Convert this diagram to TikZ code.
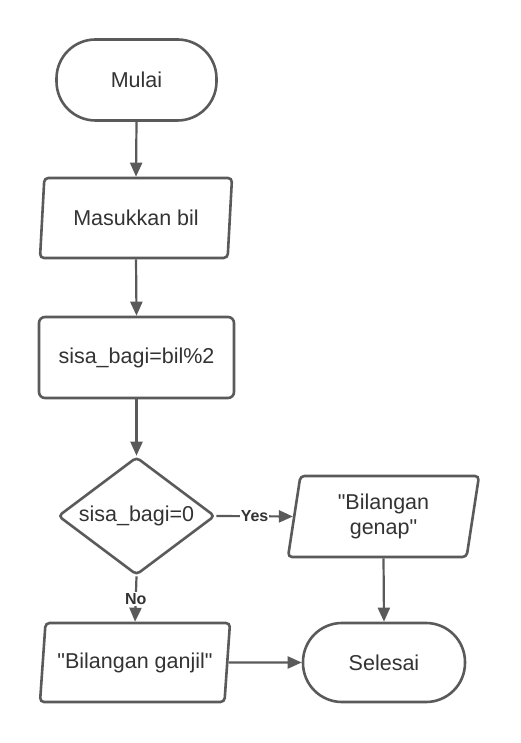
\documentclass[tikz,border=0pt]{standalone}
\usepackage{fontspec}
\setmainfont{Liberation Sans}[Ligatures=TeXOff]
\usetikzlibrary{shapes.geometric,arrows.meta}
\definecolor{strokegray}{HTML}{5A5A5A}
\definecolor{textgray}{HTML}{333333}
\begin{document}
\begin{tikzpicture}[x=1pt,y=1pt,
  base/.style={draw=strokegray, line width=2.6pt, fill=white, text=textgray,
    font=\fontsize{21.5}{25}\selectfont, inner sep=0pt, align=center},
  terminal/.style={base, rectangle, rounded corners=39pt},
  procbox/.style={base, rectangle, rounded corners=6pt},
  iobox/.style={base, trapezium, trapezium left angle=74.6, trapezium right angle=105.4,
    trapezium stretches body, rounded corners=4pt},
  decision/.style={base, diamond, rounded corners=4pt},
  flow/.style={draw=strokegray, line width=2.2pt, -{Triangle[length=14pt,width=12pt]}},
  lbl/.style={fill=white, text=textgray, font=\fontsize{16}{18}\bfseries\selectfont, inner sep=1pt}
]
\useasboundingbox (0,0) rectangle (520,743);

\node[terminal, minimum width=160pt, minimum height=81pt] (mulai) at (136.5,663) {Mulai};
\node[iobox, minimum width=192pt, minimum height=80pt] (input) at (136,525) {Masukkan bil};
\node[procbox, minimum width=195pt, minimum height=81pt] (proc) at (136.5,385.5) {sisa\_bagi=bil\%2};
\node[decision, minimum width=157pt, minimum height=118pt] (dec) at (136.5,227) {\makebox[0pt]{sisa\_bagi=0}};
\node[iobox, minimum width=191pt, minimum height=81pt] (genap) at (383.5,226.5) {"Bilangan\\genap"};
\node[iobox, minimum width=190pt, minimum height=79pt] (ganjil) at (135,80.5) {"Bilangan ganjil"};
\node[terminal, minimum width=162pt, minimum height=79pt] (selesai) at (384,80.5) {Selesai};

\draw[flow] (mulai.south) -- (input.north);
\draw[flow] (input.south) -- (proc.north);
\draw[flow] (proc.south) -- (dec.north);
\draw[flow] (dec.east) -- node[lbl] {Yes} (genap.west);
\draw[flow] (dec.south) -- node[lbl] {No} (ganjil.north);
\draw[flow] (genap.south) -- (selesai.north);
\draw[flow] (ganjil.east) -- (selesai.west);
\end{tikzpicture}
\end{document}
